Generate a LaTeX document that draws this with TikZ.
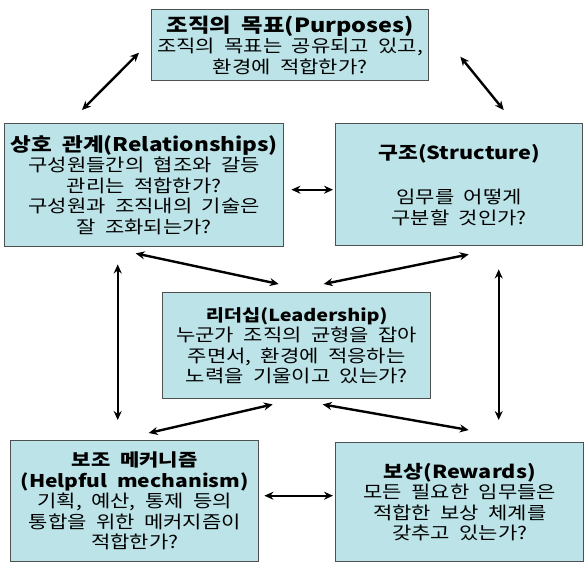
\documentclass[tikz,border=0pt]{standalone}
\usepackage{fontspec}
\setmainfont{Noto Sans CJK KR}
\newfontfamily\krwide[FakeStretch=1.2,WordSpace=2]{Noto Sans CJK KR}
\usetikzlibrary{arrows.meta,calc}
\definecolor{boxfill}{RGB}{188,228,232}
\definecolor{boxline}{RGB}{80,80,80}
\tikzset{
  box/.style={draw=boxline, line width=1.4pt, fill=boxfill, anchor=north west,
    inner sep=0pt, align=center, text=black,
    font=\krwide\fontsize{17.5}{20.5}\selectfont},
  link/.style={line width=2.4pt, black,
    {Stealth[length=9pt,width=8pt]}-{Stealth[length=9pt,width=8pt]}},
}
\newcommand{\ttl}[2]{{\fontsize{#1}{21}\selectfont\bfseries #2}}
\begin{document}
\begin{tikzpicture}[x=1pt,y=-1pt]
\useasboundingbox (0,0) rectangle (585,563);
\clip (0,0) rectangle (585,563);
\node[box, minimum width=277pt, minimum height=71pt] (pur) at (151,9)
  {\ttl{19.5}{조직의 목표(Purposes)}\\조직의 목표는 공유되고 있고,\\환경에 적합한가?};
\node[box, minimum width=279pt, minimum height=123pt] (rel) at (4,123)
  {\ttl{18.8}{상호 관계(Relationships)}\\구성원들간의 협조와 갈등\\관리는 적합한가?\\구성원과 조직내의 기술은\\잘 조화되는가?};
\node[box, minimum width=247pt, minimum height=122pt] (str) at (335,123)
  {\ttl{18}{구조(Structure)}\\[24pt]임무를 어떻게\\구분할 것인가?};
\node[box, minimum width=268pt, minimum height=106pt] (lead) at (162,292)
  {\ttl{16.5}{리더십(Leadership)}\\누군가 조직의 균형을 잡아\\주면서, 환경에 적응하는\\노력을 기울이고 있는가?};
\node[box, minimum width=248pt, minimum height=121pt] (help) at (10,440)
  {\ttl{17.5}{보조 메커니즘}\\\ttl{17.5}{(Helpful mechanism)}\\기획, 예산, 통제 등의\\통합을 위한 메커지즘이\\적합한가?};
\node[box, minimum width=248pt, minimum height=119pt] (rew) at (335,442)
  {\ttl{18}{보상(Rewards)}\\모든 필요한 임무들은\\적합한 보상 체계를\\갖추고 있는가?};

\draw[link] ($(pur.west)+(-12,7.5)$) -- ($(rel.north west)+(78,-13)$);
\draw[link] ($(pur.east)+(31,11.5)$) -- ($(str.north)+(44.5,-13)$);
\draw[link] ($(rel.east)+(7,4.5)$) -- ($(str.west)+(-2,5)$);
\draw[link] ($(rel.south)+(-8.5,6)$) -- ($(lead.north)+(-18,-8)$);
\draw[link] ($(str.south)+(9.5,8)$) -- ($(lead.north)+(27,-8)$);
\draw[link] ($(rel.south)+(-26.5,17)$) -- ($(help.north)+(-17,-20)$);
\draw[link] ($(str.south)+(39.5,23)$) -- ($(rew.north)+(39,-22)$);
\draw[link] ($(lead.south)+(-24,5)$) -- ($(help.north)+(14,-7)$);
\draw[link] ($(lead.south)+(26,5)$) -- ($(rew.north)+(9,-12)$);
\draw[link] ($(help.east)+(5,-5.5)$) -- ($(rew.west)+(-2,-6.5)$);
\end{tikzpicture}
\end{document}
